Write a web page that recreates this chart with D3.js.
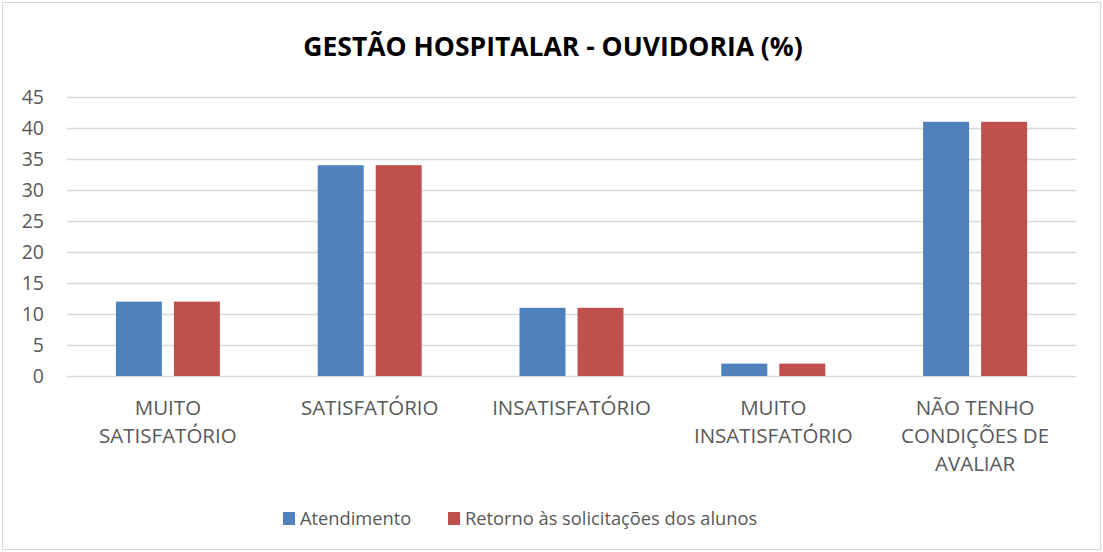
<!DOCTYPE html>
<html>
<head>
<meta charset="utf-8">
<script src="https://cdn.jsdelivr.net/npm/d3@7"></script>
<style>
  body { margin: 0; background: #fff; }
  text { font-family: "Open Sans", "Noto Sans", sans-serif; }
</style>
</head>
<body>
<div id="chart"></div>
<script>
// data //
var categories = [["MUITO", "SATISFATÓRIO"], ["SATISFATÓRIO"], ["INSATISFATÓRIO"], ["MUITO", "INSATISFATÓRIO"], ["NÃO TENHO", "CONDIÇÕES DE", "AVALIAR"]];
var seriesNames = ["Atendimento", "Retorno às solicitações dos alunos"];
var atendimento = [12, 34, 11, 2, 41];
var retorno = [12, 34, 11, 2, 41];
var yTicks = [0, 5, 10, 15, 20, 25, 30, 35, 40, 45];
var colors = ["#4F81BD", "#C0504D"];

var W = 1103, H = 552;
var margin = {top: 97, right: 27, bottom: 176, left: 67};
var width = W - margin.left - margin.right;
var height = H - margin.top - margin.bottom;

var svg = d3.select("#chart").append("svg")
  .attr("width", W)
  .attr("height", H);

// outer border
svg.append("rect")
  .attr("x", 2.5).attr("y", 2.5)
  .attr("width", W - 5).attr("height", H - 5)
  .attr("fill", "#fff")
  .attr("stroke", "#d9d9d9");

svg.append("text")
  .attr("x", 553).attr("y", 56)
  .attr("text-anchor", "middle")
  .style("font-size", "26.5px")
  .style("font-weight", "bold")
  .style("fill", "#000")
  .text("GESTÃO HOSPITALAR - OUVIDORIA (%)");

var g = svg.append("g")
  .attr("transform", "translate(" + margin.left + "," + margin.top + ")");

var xScale = d3.scaleBand()
  .domain(d3.range(categories.length))
  .range([0, width]);

var yScale = d3.scaleLinear()
  .domain([0, 45])
  .range([height, 0]);

var inner = d3.scaleBand()
  .domain([0, 1])
  .range([xScale.bandwidth() / 2 - 52, xScale.bandwidth() / 2 + 52])
  .paddingInner(0.207);

// gridlines
var yAxis = d3.axisLeft(yScale)
  .tickValues(yTicks)
  .tickSize(-width)
  .tickPadding(23);

var ya = g.append("g").call(yAxis);
ya.select(".domain").remove();
ya.selectAll(".tick line").attr("stroke", "#d9d9d9").attr("stroke-width", 1.5);
ya.selectAll(".tick text")
  .style("font-family", "'Open Sans', sans-serif")
  .style("font-size", "19.5px")
  .style("fill", "#595959");

// bars
var seriesData = [atendimento, retorno];
seriesData.forEach(function(vals, s) {
  g.selectAll(".bar" + s)
    .data(vals)
    .enter().append("rect")
    .attr("x", function(d, i) { return xScale(i) + inner(s); })
    .attr("width", inner.bandwidth())
    .attr("y", function(d) { return yScale(d); })
    .attr("height", function(d) { return height - yScale(d); })
    .attr("fill", colors[s]);
});

// category labels
var labels = g.selectAll(".cat")
  .data(categories)
  .enter().append("text")
  .attr("text-anchor", "middle")
  .attr("transform", function(d, i) { return "translate(" + (xScale(i) + xScale.bandwidth() / 2) + "," + (height + 39) + ")"; })
  .style("font-size", "20.5px")
  .style("fill", "#595959");

labels.selectAll("tspan")
  .data(function(d) { return d; })
  .enter().append("tspan")
  .attr("x", 0)
  .attr("dy", function(d, i) { return i === 0 ? 0 : 28; })
  .text(function(d) { return d; });

// legend
var legendX = [283, 448];
var legend = svg.selectAll(".legend")
  .data(seriesNames)
  .enter().append("g")
  .attr("transform", function(d, i) { return "translate(" + legendX[i] + ",512)"; });

legend.append("rect")
  .attr("width", 12).attr("height", 13)
  .attr("fill", function(d, i) { return colors[i]; });

legend.append("text")
  .attr("x", 17).attr("y", 13)
  .style("font-size", "18.3px")
  .style("fill", "#595959")
  .text(function(d) { return d; });
</script>
</body>
</html>
